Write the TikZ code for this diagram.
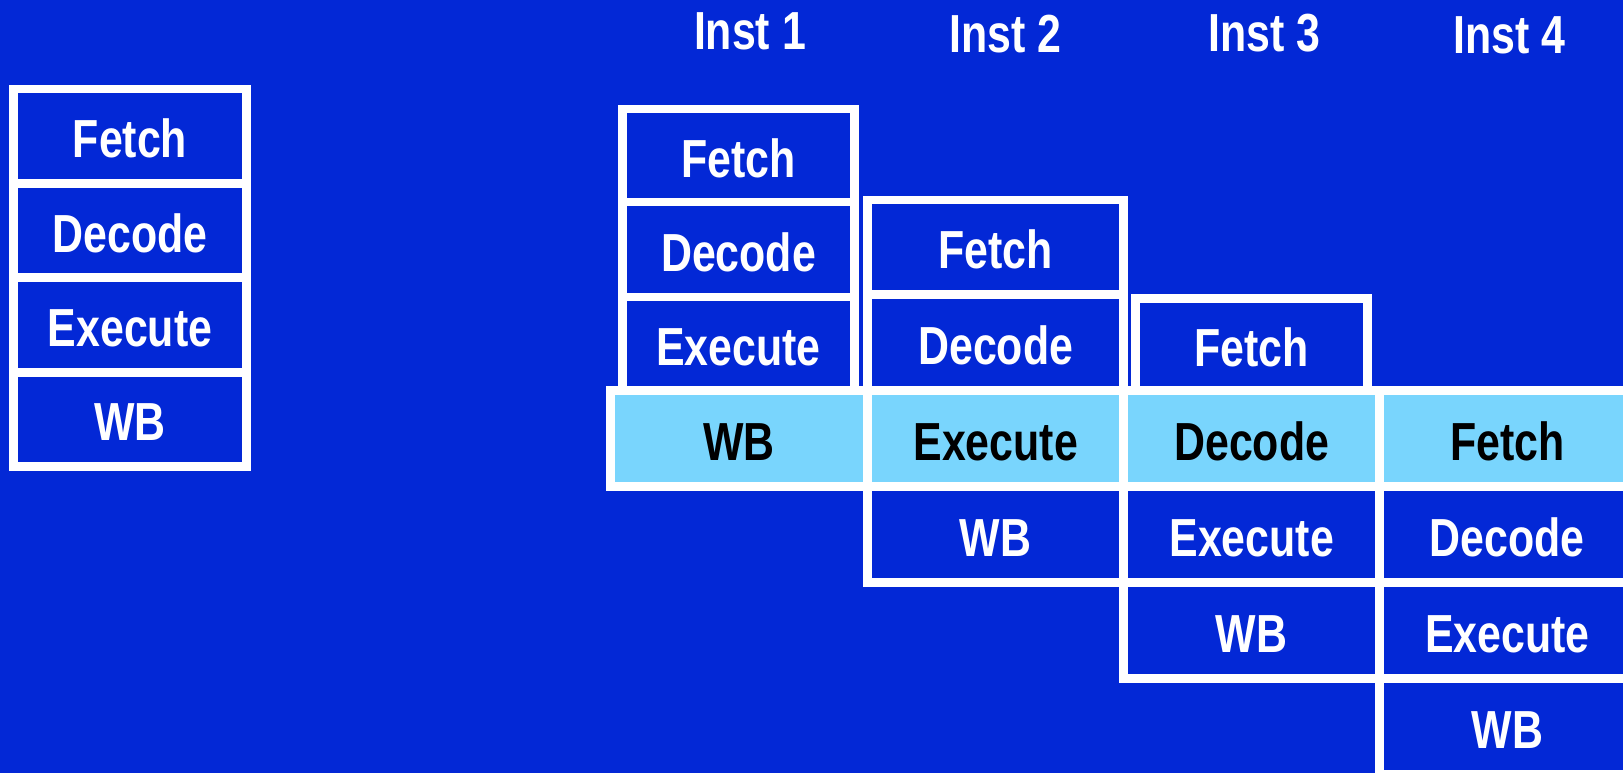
\documentclass[tikz,border=0pt]{standalone}
\usepackage{fontspec}
\setmainfont{Liberation Sans}[FakeStretch=0.8]
\usepackage{tikz}
\usetikzlibrary{positioning}

\definecolor{slideblue}{RGB}{3,40,214}
\definecolor{rowcyan}{RGB}{121,213,253}

\begin{document}
\begin{tikzpicture}[
  stagebox/.style={rectangle, draw=white, fill=slideblue, line width=5.1pt,
              minimum width=5.12cm, minimum height=1.92cm, inner sep=0pt,
              text height=0.86cm, text depth=0pt,
              text=white, font=\fontsize{30.5}{36}\selectfont\bfseries},
  narrow/.style={minimum width=4.65cm},
  hotbox/.style={stagebox, fill=rowcyan, text=black},
  head/.style={text=white, inner sep=0pt, font=\fontsize{30.5}{36}\selectfont\bfseries},
]

% slide background
\fill[slideblue] (0,0) rectangle (32.46,-15.46);
\useasboundingbox (0,0) rectangle (32.46,-15.46);

% Unpipelined: one instruction, four stages
\node[stagebox, narrow, minimum height=1.888cm] (sfetch) at (2.60,-2.724) {Fetch};
\node[stagebox, narrow, minimum height=1.888cm] (sdecode) at (2.60,-4.612) {Decode};
\node[stagebox, narrow, minimum height=1.888cm] (sexec) at (2.60,-6.500) {Execute};
\node[stagebox, narrow, minimum height=1.888cm] (swb) at (2.60,-8.388) {WB};

% Column headings
\node[head] (inst1) at (15.00,-0.63) {Inst 1};
\node[head] (inst2) at (20.108,-0.68) {Inst 2};
\node[head] (inst3) at (25.294,-0.665) {Inst 3};
\node[head] (inst4) at (30.184,-0.70) {Inst 4};

% Inst 1
\node[stagebox, narrow, minimum height=1.86cm] (fetch1) at (14.77,-3.11) {Fetch};
\node[stagebox, narrow, minimum height=1.90cm] (decode1) at (14.77,-4.99) {Decode};
\node[stagebox, narrow, minimum height=1.87cm] (exec1) at (14.77,-6.875) {Execute};

% Inst 2
\node[stagebox, minimum height=1.894cm] (fetch2) at (19.914,-4.947) {Fetch};
\node[stagebox, minimum height=1.916cm] (decode2) at (19.914,-6.852) {Decode};
\node[stagebox] (wb2) at (19.914,-10.69) {WB};

% Inst 3
\node[stagebox, narrow, minimum height=1.84cm] (fetch3) at (25.033,-6.89) {Fetch};
\node[stagebox] (exec3) at (25.033,-10.69) {Execute};
\node[stagebox] (wb3) at (25.033,-12.61) {WB};

% Inst 4
\node[stagebox] (decode4) at (30.145,-10.69) {Decode};
\node[stagebox] (exec4) at (30.145,-12.61) {Execute};
\node[stagebox] (wb4) at (30.145,-14.53) {WB};

% Highlighted cycle: all four stages busy
\node[hotbox, minimum width=5.14cm] (wb1) at (14.78,-8.77) {WB};
\node[hotbox] (exec2) at (19.914,-8.77) {Execute};
\node[hotbox] (decode3) at (25.033,-8.77) {Decode};
\node[hotbox] (fetch4) at (30.145,-8.77) {Fetch};

\end{tikzpicture}
\end{document}
